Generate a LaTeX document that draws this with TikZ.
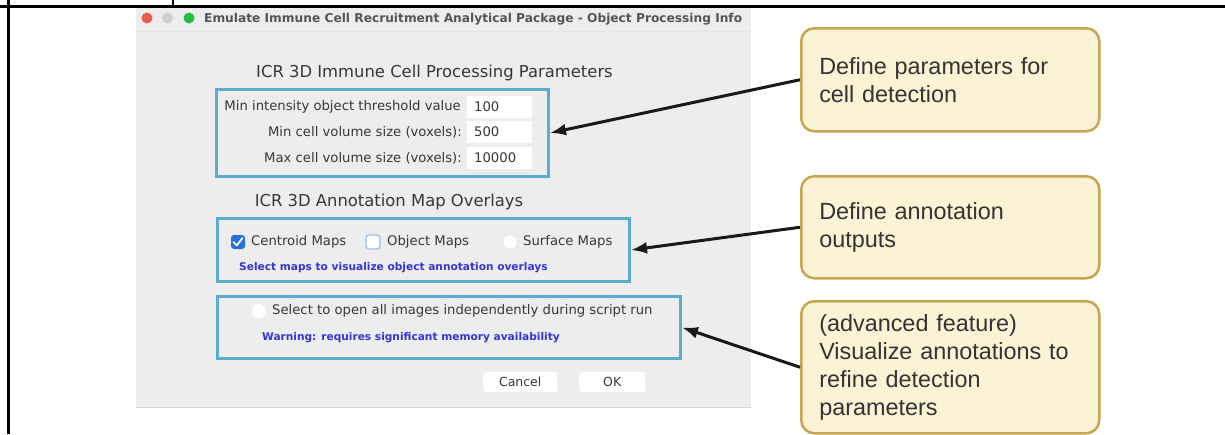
\documentclass[tikz,border=0pt]{standalone}
\usepackage{fontspec}
\setmainfont{Liberation Sans}
\newfontfamily\uifont{DejaVu Sans}
\usetikzlibrary{arrows.meta}

\definecolor{winbody}{RGB}{237,237,237}
\definecolor{winedge}{RGB}{215,215,215}
\definecolor{uitext}{RGB}{55,55,55}
\definecolor{titletext}{RGB}{85,85,85}
\definecolor{panelblue}{RGB}{92,172,208}
\definecolor{hintblue}{RGB}{52,52,215}
\definecolor{checkblue}{RGB}{38,112,222}
\definecolor{calloutfill}{RGB}{252,243,214}
\definecolor{calloutedge}{RGB}{198,166,82}
\definecolor{lightred}{RGB}{237,90,82}
\definecolor{lightgray}{RGB}{208,208,210}
\definecolor{lightgreen}{RGB}{40,190,70}

\begin{document}
\begin{tikzpicture}[x=1pt,y=-1pt,
  frameline/.style={line width=2.4pt,black},
  panel/.style={draw=panelblue,line width=3pt,rectangle,inner sep=0pt,anchor=north west},
  field/.style={fill=white,rectangle,inner sep=0pt,anchor=north west},
  uilabel/.style={font=\uifont\fontsize{13.2}{15}\selectfont,text=uitext,inner sep=0pt},
  uihead/.style={font=\uifont\fontsize{16.4}{19}\selectfont,text=uitext,inner sep=0pt},
  uihint/.style={font=\uifont\bfseries\fontsize{10.6}{12}\selectfont,text=hintblue,inner sep=0pt,anchor=west},
  button/.style={fill=white,rounded corners=3pt,rectangle,inner sep=0pt,anchor=north west,
    font=\uifont\fontsize{12.5}{14}\selectfont,text=uitext},
  callout/.style={draw=calloutedge,fill=calloutfill,line width=2.5pt,rounded corners=13pt,
    rectangle,anchor=north west,minimum width=298pt,text width=262pt,inner xsep=18pt,
    align=left,font=\fontsize{23.4}{27.8}\selectfont,text=black!80},
  pointer/.style={line width=3pt,black!90,-{Latex[length=16pt,width=12pt]}}
]
\useasboundingbox (0,0) rectangle (1225,434);
\fill[white] (0,0) rectangle (1225,434);

% table rules
\draw[frameline] (0,6.5) -- (1225,6.5);
\draw[frameline] (8.5,0) -- (8.5,434);
\draw[frameline] (173,0) -- (173,6.5);

% dialog window
\fill[winbody] (136,8) rectangle (751,407);
\draw[winedge,line width=0.6pt] (136,407) -- (751,407);
\draw[black!10,line width=0.8pt] (136,31) -- (751,31);
\fill[lightred] (147,18) circle (5.5);
\fill[lightgray] (167.5,18) circle (5.5);
\fill[lightgreen] (189,18) circle (5.5);
\node[font=\uifont\bfseries\fontsize{12.2}{14}\selectfont,text=titletext,inner sep=0pt,anchor=west] (title) at (204,19)
  {Emulate Immune Cell Recruitment Analytical Package - Object Processing Info};

% processing parameters
\node[uihead] (head1) at (434.5,73) {ICR 3D Immune Cell Processing Parameters};
\node[panel,minimum width=332pt,minimum height=87pt] (box1) at (215,88) {};
\node[field,minimum width=65pt,minimum height=22pt] (f1) at (467,96) {};
\node[field,minimum width=65pt,minimum height=22pt] (f2) at (467,121) {};
\node[field,minimum width=65pt,minimum height=22pt] (f3) at (467,147) {};
\node[uilabel,anchor=east] (l1) at (461,107) {Min intensity object threshold value};
\node[uilabel,anchor=east] (l2) at (462,132) {Min cell volume size (voxels):};
\node[uilabel,anchor=east] (l3) at (462,158) {Max cell volume size (voxels):};
\node[uilabel,anchor=west] (v1) at (474,107) {100};
\node[uilabel,anchor=west] (v2) at (474,132) {500};
\node[uilabel,anchor=west] (v3) at (474,158) {10000};

% annotation map overlays
\node[uihead] (head2) at (389,202) {ICR 3D Annotation Map Overlays};
\node[panel,minimum width=412pt,minimum height=63pt] (box2) at (216,217) {};
\node[fill=checkblue,rounded corners=3pt,minimum size=14pt,inner sep=0pt] (cb1) at (238,242) {};
\draw[white,line width=1.8pt,line cap=round,line join=round] (233.5,242) -- (236.8,245.5) -- (242.5,238);
\node[uilabel,anchor=west] (t1) at (251,242) {Centroid Maps};
\node[fill=white,draw=checkblue!45,line width=1.4pt,rounded corners=3pt,minimum size=14pt,inner sep=0pt] (cb2) at (373,242) {};
\node[uilabel,anchor=west] (t2) at (387,242) {Object Maps};
\node[fill=white,circle,minimum size=13pt,inner sep=0pt] (cb3) at (510,242) {};
\node[uilabel,anchor=west] (t3) at (523,242) {Surface Maps};
\node[uihint] (hint1) at (239,268) {Select maps to visualize object annotation overlays};

% independent image option
\node[panel,minimum width=463pt,minimum height=62pt] (box3) at (216,295) {};
\node[fill=white,circle,minimum size=14pt,inner sep=0pt] (rb) at (259,311) {};
\node[uilabel,anchor=west] (t4) at (272,311) {Select to open all images independently during script run};
\node[uihint] (hint2) at (262,338) {Warning: requires significant memory availability};

% buttons
\node[button,minimum width=74pt,minimum height=20pt] (cancel) at (483,372) {Cancel};
\node[button,minimum width=66pt,minimum height=20pt] (ok) at (579,372) {OK};

% callouts
\node[callout,minimum height=103pt] (cA) at (800,27) {Define parameters for\\cell detection};
\node[callout,minimum height=102pt] (cB) at (800,175) {Define annotation\\outputs};
\node[callout,minimum height=132pt] (cC) at (800,300) {(advanced feature)\\Visualize annotations to\\refine detection\\parameters};

% pointers
\draw[pointer] (cA.west) -- (box1.east);
\draw[pointer] (cB.west) -- (box2.east);
\draw[pointer] (cC.west) -- (box3.east);
\end{tikzpicture}
\end{document}
